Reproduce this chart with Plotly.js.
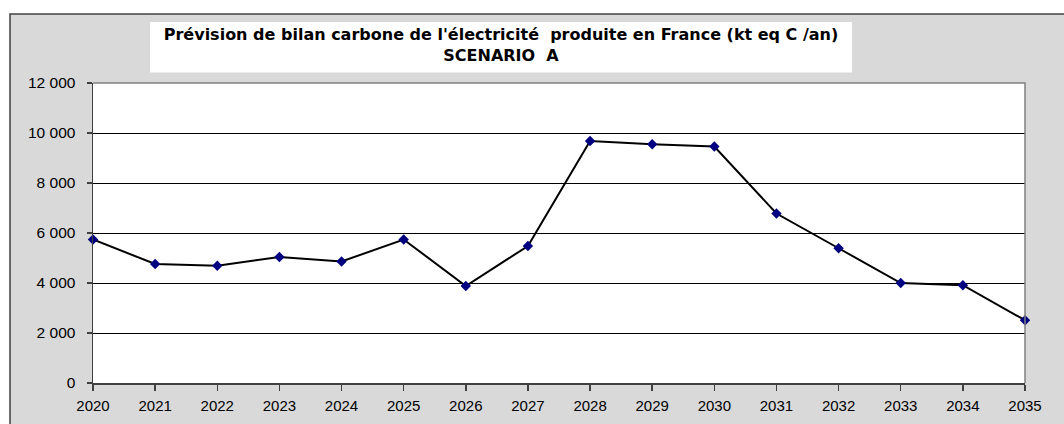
<!DOCTYPE html>
<html>
<head>
<meta charset="utf-8">
<script src="https://cdn.plot.ly/plotly-3.0.1.min.js"></script>
<style>html,body{margin:0;padding:0;background:#fff;overflow:hidden}</style>
</head>
<body>
<div id="chart" style="width:1064px;height:424px"></div>
<script>
const years = [2020, 2021, 2022, 2023, 2024, 2025, 2026, 2027, 2028, 2029, 2030, 2031, 2032, 2033, 2034, 2035];
const carbon = [5740, 4760, 4690, 5040, 4860, 5740, 3880, 5480, 9680, 9550, 9460, 6780, 5390, 4000, 3910, 2510];
const yTickVals = [0, 2000, 4000, 6000, 8000, 10000, 12000];
const yTickText = ['0', '2 000', '4 000', '6 000', '8 000', '10 000', '12 000'];
const titleLine1 = "Prévision de bilan carbone de l'électricité  produite en France (kt eq C /an)";
const titleLine2 = "SCENARIO  A";

const L = 93, R = 39, T = 83, B = 41, W = 1064, H = 424;
const pw = W - L - R, ph = H - T - B;
const px = v => (v - L) / pw;
const py = v => (H - B - v) / ph;

const trace = {
  x: years, y: carbon, type: 'scatter', mode: 'lines+markers',
  line: {color: '#000000', width: 2},
  marker: {symbol: 'diamond', color: '#000080', size: 8},
  cliponaxis: false, showlegend: false
};

const layout = {
  width: W, height: H,
  margin: {l: L, r: R, t: T, b: B, pad: 0},
  paper_bgcolor: '#d9d9d9', plot_bgcolor: '#ffffff',
  font: {family: 'Arial, "Liberation Sans", sans-serif', size: 15, color: '#000'},
  title: {
    text: titleLine1 + '<br>' + titleLine2,
    font: {family: '"DejaVu Sans", sans-serif', size: 16, color: '#000', weight: 'bold'},
    xref: 'container', yref: 'container', x: 501 / W, xanchor: 'center',
    y: 1 - 40 / H, yanchor: 'middle'
  },
  xaxis: {
    range: [2020, 2035], dtick: 1, tick0: 2020, showgrid: false, zeroline: false,
    showline: true, linecolor: '#404040', linewidth: 1.5,
    ticks: 'outside', ticklen: 6, tickcolor: '#404040', tickwidth: 1.5,
    ticklabelstandoff: 2, fixedrange: true
  },
  yaxis: {
    range: [0, 12000], tickmode: 'array', tickvals: yTickVals, ticktext: yTickText,
    tickfont: {size: 15.5},
    showgrid: true, gridcolor: '#000000', gridwidth: 1, zeroline: false,
    showline: true, linecolor: '#404040', linewidth: 1.5,
    ticks: 'outside', ticklen: 5, tickcolor: '#404040', tickwidth: 1.5,
    ticklabelstandoff: 8, fixedrange: true
  },
  shapes: [
    {type: 'rect', xref: 'paper', yref: 'paper', x0: px(-5), x1: px(W + 5), y0: py(-5), y1: py(14), fillcolor: '#ffffff', line: {width: 0}, layer: 'below'},
    {type: 'rect', xref: 'paper', yref: 'paper', x0: px(-5), x1: px(10), y0: py(H + 5), y1: py(-5), fillcolor: '#ffffff', line: {width: 0}, layer: 'below'},
    {type: 'path', xref: 'paper', yref: 'paper', path: `M ${px(10)} ${py(H + 5)} L ${px(10)} ${py(14)} L ${px(W + 5)} ${py(14)}`, line: {color: '#404040', width: 1.5}, layer: 'below'},
    {type: 'rect', xref: 'paper', yref: 'paper', x0: px(150), x1: px(852), y0: py(72.5), y1: py(22), fillcolor: '#ffffff', line: {width: 0}, layer: 'below'},
    {type: 'path', xref: 'paper', yref: 'paper', path: 'M 0 1 L 1 1 L 1 0', line: {color: '#808080', width: 1.5}, layer: 'above'}
  ]
};

Plotly.newPlot('chart', [trace], layout, {displayModeBar: false, staticPlot: true});
</script>
</body>
</html>
